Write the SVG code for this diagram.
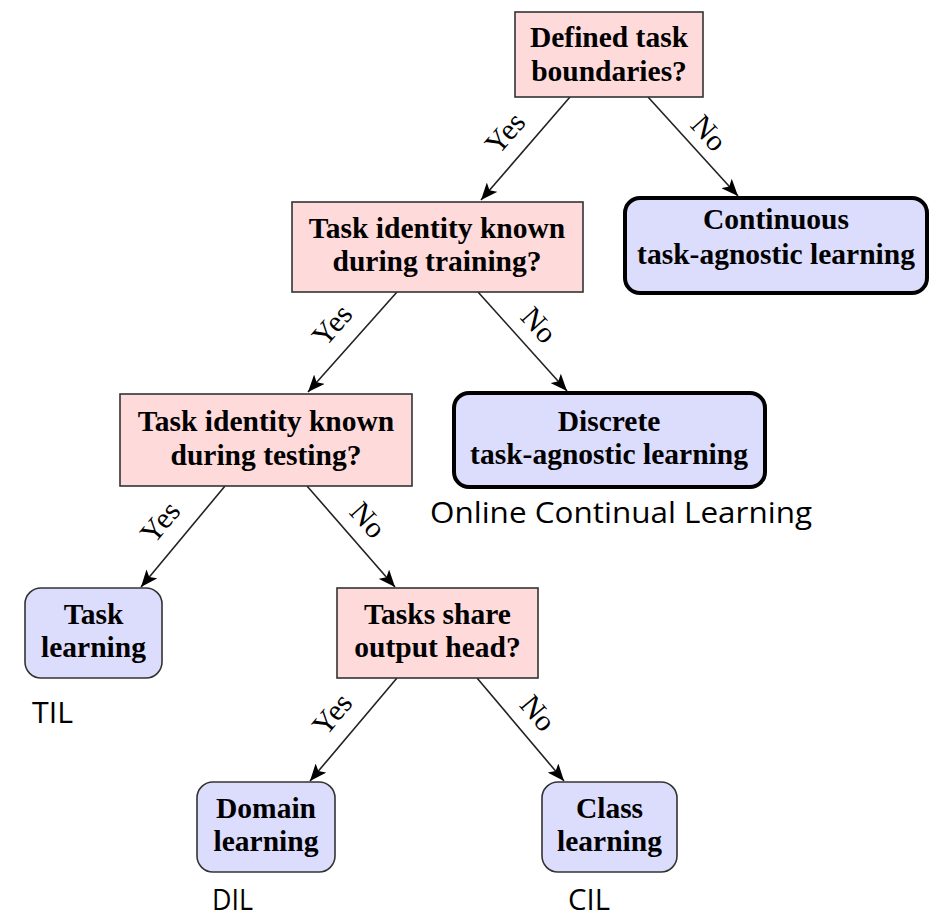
<svg xmlns="http://www.w3.org/2000/svg" width="933" height="919" viewBox="0 0 933 919">
<style>
.q{fill:#ffdada;stroke:#333;stroke-width:1.6}
.t{fill:#dcdcfc;stroke:#000;stroke-width:4}
.s{fill:#dcdcfc;stroke:#333;stroke-width:1.6}
.bx{font-family:"Liberation Serif","Times New Roman",serif;font-weight:bold;font-size:29.5px;text-anchor:middle;fill:#000}
.lb{font-family:"Liberation Serif","Times New Roman",serif;font-size:30px;text-anchor:middle;fill:#000}
.an{font-family:"Open Sans","Noto Sans",sans-serif;font-size:30px;fill:#000}
.e{stroke:#222;stroke-width:1.6;fill:none;marker-end:url(#ah)}
</style>
<defs>
<marker id="ah" markerUnits="userSpaceOnUse" viewBox="0 0 17 14" refX="17" refY="7" markerWidth="17" markerHeight="14" orient="auto">
<path d="M0,0 L17,7 L0,14 L4,7 z" fill="#000"/>
</marker>
</defs>
<g id="connectors">
<line class="e" x1="570" y1="97" x2="481" y2="200"/>
<line class="e" x1="648" y1="97" x2="738" y2="196"/>
<line class="e" x1="397" y1="292" x2="308" y2="392"/>
<line class="e" x1="478" y1="292" x2="567" y2="391"/>
<line class="e" x1="225" y1="486" x2="141" y2="587"/>
<line class="e" x1="307" y1="486" x2="395" y2="587"/>
<line class="e" x1="397" y1="678" x2="310" y2="781"/>
<line class="e" x1="477" y1="678" x2="564" y2="781"/>
<text class="lb" transform="translate(505,133) rotate(-49)" y="10">Yes</text>
<text class="lb" transform="translate(709,133) rotate(48)" y="10">No</text>
<text class="lb" transform="translate(332,325) rotate(-49)" y="10">Yes</text>
<text class="lb" transform="translate(539,325) rotate(48)" y="10">No</text>
<text class="lb" transform="translate(160,522) rotate(-50)" y="10">Yes</text>
<text class="lb" transform="translate(368,520) rotate(48)" y="10">No</text>
<text class="lb" transform="translate(332,714) rotate(-50)" y="10">Yes</text>
<text class="lb" transform="translate(538,713) rotate(50)" y="10">No</text>
</g>
<g id="n1">
<rect class="q" x="515" y="12" width="188" height="85"/>
<text class="bx" x="609" y="47">Defined task</text>
<text class="bx" x="609" y="81">boundaries?</text>
</g>
<g id="n2">
<rect class="q" x="292" y="202" width="291" height="90"/>
<text class="bx" x="437" y="238">Task identity known</text>
<text class="bx" x="437" y="271">during training?</text>
</g>
<g id="n3">
<rect class="t" x="625" y="198" width="302" height="95" rx="15"/>
<text class="bx" x="776" y="229">Continuous</text>
<text class="bx" x="776" y="264">task-agnostic learning</text>
</g>
<g id="n4">
<rect class="q" x="120" y="394" width="292" height="92"/>
<text class="bx" x="266" y="431">Task identity known</text>
<text class="bx" x="266" y="465">during testing?</text>
</g>
<g id="n5">
<rect class="t" x="454" y="393" width="311" height="94" rx="15"/>
<text class="bx" x="609" y="431">Discrete</text>
<text class="bx" x="609" y="464">task-agnostic learning</text>
<text class="an" x="430" y="523" textLength="382" lengthAdjust="spacingAndGlyphs">Online Continual Learning</text>
</g>
<g id="n6">
<rect class="s" x="25" y="588" width="137" height="90" rx="16"/>
<text class="bx" x="93.5" y="624">Task</text>
<text class="bx" x="93.5" y="657">learning</text>
<text class="an" x="32" y="723" textLength="41" lengthAdjust="spacingAndGlyphs">TIL</text>
</g>
<g id="n7">
<rect class="q" x="337" y="588" width="201" height="90"/>
<text class="bx" x="437.5" y="624">Tasks share</text>
<text class="bx" x="437.5" y="657">output head?</text>
</g>
<g id="n8">
<rect class="s" x="197" y="782" width="138" height="90" rx="16"/>
<text class="bx" x="266" y="818">Domain</text>
<text class="bx" x="266" y="851">learning</text>
<text class="an" x="212" y="910" textLength="41" lengthAdjust="spacingAndGlyphs">DIL</text>
</g>
<g id="n9">
<rect class="s" x="542" y="782" width="135" height="90" rx="16"/>
<text class="bx" x="609.5" y="818">Class</text>
<text class="bx" x="609.5" y="851">learning</text>
<text class="an" x="568" y="910" textLength="42" lengthAdjust="spacingAndGlyphs">CIL</text>
</g>
</svg>
